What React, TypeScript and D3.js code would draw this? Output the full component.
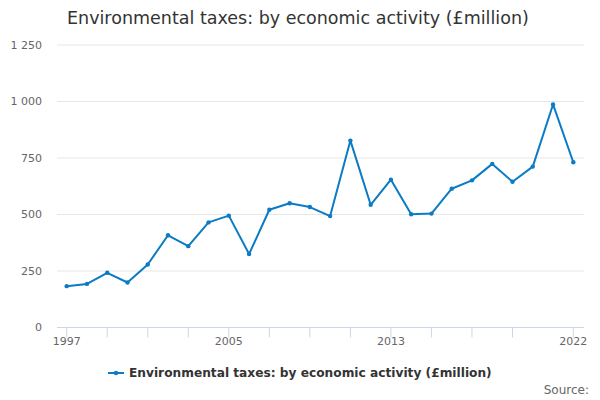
import React from 'react';
import * as d3 from 'd3';

const years = d3.range(1997, 2023);
const taxValues = [
  183, 193, 242, 199, 279, 408, 360, 465, 495, 325, 521, 550, 533,
  493, 827, 543, 654, 501, 504, 614, 651, 724, 645, 712, 987, 731,
];
const yTicks = [0, 250, 500, 750, 1000, 1250];
const xTicks = [1997, 1999, 2001, 2003, 2005, 2007, 2009, 2011, 2013, 2015, 2017, 2019, 2022];
const xLabels = [1997, 2005, 2013, 2022];

const title = 'Environmental taxes: by economic activity (£million)';
const seriesName = 'Environmental taxes: by economic activity (£million)';

const W = 600;
const H = 400;
const plot = { left: 57, right: 584, top: 45, bottom: 327.5 };
const font = '"DejaVu Sans", sans-serif';
const lineColor = '#0a7bc4';

const fmt = (v: number) => d3.format(',')(v).replace(/,/g, ' ');

export default function App() {
  const x = d3.scaleLinear().domain([1997, 2022]).range([66.7, 573.3]);
  const y = d3.scaleLinear().domain([0, 1250]).range([plot.bottom, plot.top]);

  const points = years.map((yr, i) => [yr, taxValues[i]] as [number, number]);
  const line = d3.line<[number, number]>()
    .x(d => x(d[0]))
    .y(d => y(d[1]));

  return (
    <svg width={W} height={H} style={{ position: 'absolute', left: 0, top: 0, fontFamily: font }}>
      <rect width={W} height={H} fill="#fff" />
      <text x={67} y={24} fontSize={17.5} fill="#333">{title}</text>

      {yTicks.map(t => (
        <g key={t}>
          {t > 0 && (
            <line x1={plot.left} x2={plot.right} y1={y(t)} y2={y(t)} stroke="#e6e6e6" strokeWidth={1} />
          )}
          <text x={42} y={y(t)} dy="0.35em" textAnchor="end" fontSize={11} fill="#666">
            {fmt(t)}
          </text>
        </g>
      ))}

      <line x1={plot.left} x2={plot.right} y1={plot.bottom} y2={plot.bottom} stroke="#ccd6eb" strokeWidth={1} />
      {xTicks.map(t => (
        <line key={t} x1={x(t)} x2={x(t)} y1={plot.bottom} y2={plot.bottom + 10} stroke="#ccd6eb" strokeWidth={1} />
      ))}
      {xLabels.map(t => (
        <text key={t} x={x(t)} y={345} textAnchor="middle" fontSize={11} fill="#666">{t}</text>
      ))}

      <path d={line(points) ?? ''} fill="none" stroke={lineColor} strokeWidth={2} strokeLinejoin="round" />
      {points.map(p => (
        <circle key={p[0]} cx={x(p[0])} cy={y(p[1])} r={2.2} fill={lineColor} />
      ))}

      <g transform="translate(108,373)">
        <line x1={0} x2={16} y1={0} y2={0} stroke={lineColor} strokeWidth={2} />
        <circle cx={8} cy={0} r={2.2} fill={lineColor} />
        <text x={21} y={0} dy="0.35em" fontSize={12.2} fontWeight="bold" fill="#333">{seriesName}</text>
      </g>

      <text x={589} y={394} textAnchor="end" fontSize={12} fill="#666">Source:</text>
    </svg>
  );
}
